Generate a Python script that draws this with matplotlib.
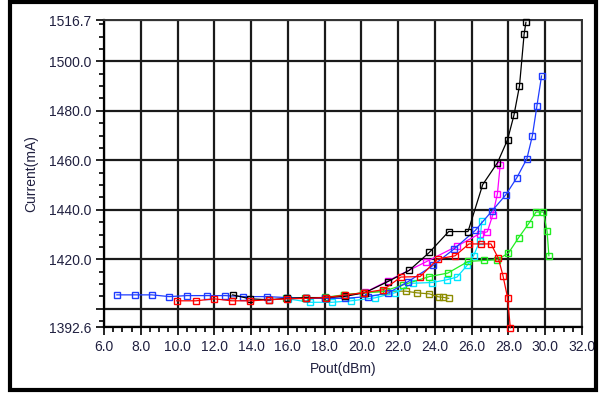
import matplotlib.pyplot as plt
from matplotlib.patches import Rectangle
import numpy as np

# values (Pout in dBm, current in mA)
blue_x = [6.7, 7.7, 8.6, 9.55, 10.5, 11.6, 12.6, 13.55, 14.85, 15.95, 17.0, 18.0, 19.1,
          20.35, 21.45, 22.55, 23.9, 25.05, 26.2, 27.1, 27.85, 28.45, 29.0, 29.3, 29.55, 29.8]
blue_y = [1405.6, 1405.6, 1405.6, 1404.9, 1405.3, 1405.3, 1405.3, 1404.9, 1404.9, 1404.5, 1404.2, 1404.2, 1404.2,
          1404.9, 1406.3, 1411.0, 1417.5, 1424.2, 1431.7, 1439.5, 1446.0, 1452.9, 1460.6, 1469.9, 1482.1, 1494.1]

black_x = [13.0, 13.95, 14.95, 15.95, 17.0, 18.05, 19.1, 20.2, 21.45, 22.6, 23.7, 24.75,
           25.8, 26.6, 27.4, 27.95, 28.3, 28.6, 28.85, 28.95]
black_y = [1405.6, 1404.0, 1403.6, 1404.2, 1404.5, 1404.5, 1405.0, 1406.5, 1411.0, 1415.5, 1422.8, 1431.2,
           1431.2, 1450.2, 1459.0, 1468.3, 1478.3, 1490.1, 1510.9, 1515.8]

red_x = [9.95, 11.0, 12.0, 12.95, 13.95, 14.95, 15.95, 17.0, 18.05, 19.1, 20.15, 21.2,
         22.15, 23.2, 24.15, 25.1, 25.85, 26.5, 27.05, 27.45, 27.7, 27.95, 28.1]
red_y = [1403.2, 1403.2, 1404.0, 1403.2, 1403.2, 1403.6, 1404.0, 1404.2, 1404.5, 1405.5, 1406.5, 1407.7,
         1412.8, 1413.0, 1420.1, 1421.4, 1426.2, 1426.2, 1426.2, 1420.4, 1413.4, 1404.5, 1392.3]

magenta_x = [18.0, 19.1, 20.2, 21.45, 23.5, 25.2, 26.45, 26.85, 27.15, 27.4, 27.55]
magenta_y = [1404.5, 1405.2, 1406.6, 1411.3, 1418.9, 1425.3, 1430.4, 1431.1, 1438.0, 1446.5, 1458.1]

cyan_x = [16.0, 17.2, 18.4, 19.45, 20.75, 21.85, 22.8, 23.85, 24.65, 25.2, 25.75, 26.1, 26.45, 26.55]
cyan_y = [1404.0, 1402.6, 1402.6, 1403.2, 1404.4, 1406.5, 1410.3, 1410.6, 1411.7, 1412.8, 1417.5, 1421.4, 1427.5, 1435.4]

green_x = [15.9, 16.95, 18.0, 19.05, 20.1, 21.2, 22.25, 23.7, 24.7, 25.8, 26.65, 27.4,
           28.0, 28.55, 29.1, 29.5, 29.9, 30.1, 30.2]
green_y = [1404.2, 1404.2, 1404.6, 1405.6, 1406.4, 1407.0, 1409.6, 1413.0, 1414.4, 1419.1, 1419.5, 1419.8,
           1422.5, 1428.7, 1434.4, 1439.1, 1439.1, 1431.3, 1421.4]

olive_x = [19.05, 20.2, 21.35, 22.4, 23.05, 23.7, 24.2, 24.45, 24.75]
olive_y = [1405.6, 1406.5, 1407.1, 1407.1, 1406.4, 1406.0, 1404.8, 1404.6, 1404.2]

plt.rcParams['font.family'] = ['Liberation Sans', 'DejaVu Sans']

fig = plt.figure(figsize=(6, 3.94), dpi=100)
ax = fig.add_axes([0.1733, 0.170, 0.7967, 0.779])

# draw order: the ones lying underneath first
series = [
    (magenta_x, magenta_y, '#ff00ff'),
    (olive_x, olive_y, '#8c8c00'),
    (cyan_x, cyan_y, '#00e6ff'),
    (green_x, green_y, '#22ee22'),
    (blue_x, blue_y, '#1f3cff'),
    (black_x, black_y, 'black'),
    (red_x, red_y, '#ff0000'),
]
for xs, ys, c in series:
    ax.plot(xs, ys, color=c, lw=0.9, marker='s', ms=4.8, mfc='none', mec=c, mew=1.0,
            clip_on=False, zorder=3)

ax.set_xlim(6.0, 32.0)
ax.set_ylim(1392.6, 1516.7)

xt = np.arange(6, 33, 2)
ax.set_xticks(xt)
ax.set_xticklabels(['%.1f' % v for v in xt])
ax.set_xticks(np.arange(6, 32.01, 0.5), minor=True)

yt = [1392.6, 1400, 1420, 1440, 1460, 1480, 1500, 1516.7]
ax.set_yticks(yt)
ax.set_yticklabels(['1392.6', '', '1420.0', '1440.0', '1460.0', '1480.0', '1500.0', '1516.7'])
ax.set_yticks(np.arange(1395, 1516, 5), minor=True)

ax.grid(True, which='major', color='#1a1a1a', lw=1.6, zorder=1)
ax.tick_params(which='major', direction='out', length=6, width=1.2, labelsize=10,
               labelcolor='#202040', pad=3)
ax.tick_params(which='minor', direction='out', length=3.5, width=1.2)

for s in ['left', 'bottom']:
    ax.spines[s].set_linewidth(1.6)
    ax.spines[s].set_color('black')
for s in ['top', 'right']:
    ax.spines[s].set_linewidth(1.4)
    ax.spines[s].set_color('#333333')

ax.set_xlabel('Pout(dBm)', fontsize=10, color='#202040', labelpad=6)
ax.set_ylabel('Current(mA)', fontsize=10, color='#202040', labelpad=8)

# outer frame around the whole picture
fig.patches.append(Rectangle((0.016, 0.01), 0.978, 0.985, transform=fig.transFigure,
                             fill=False, ec='black', lw=3))

fig.savefig('out.png', dpi=100)
